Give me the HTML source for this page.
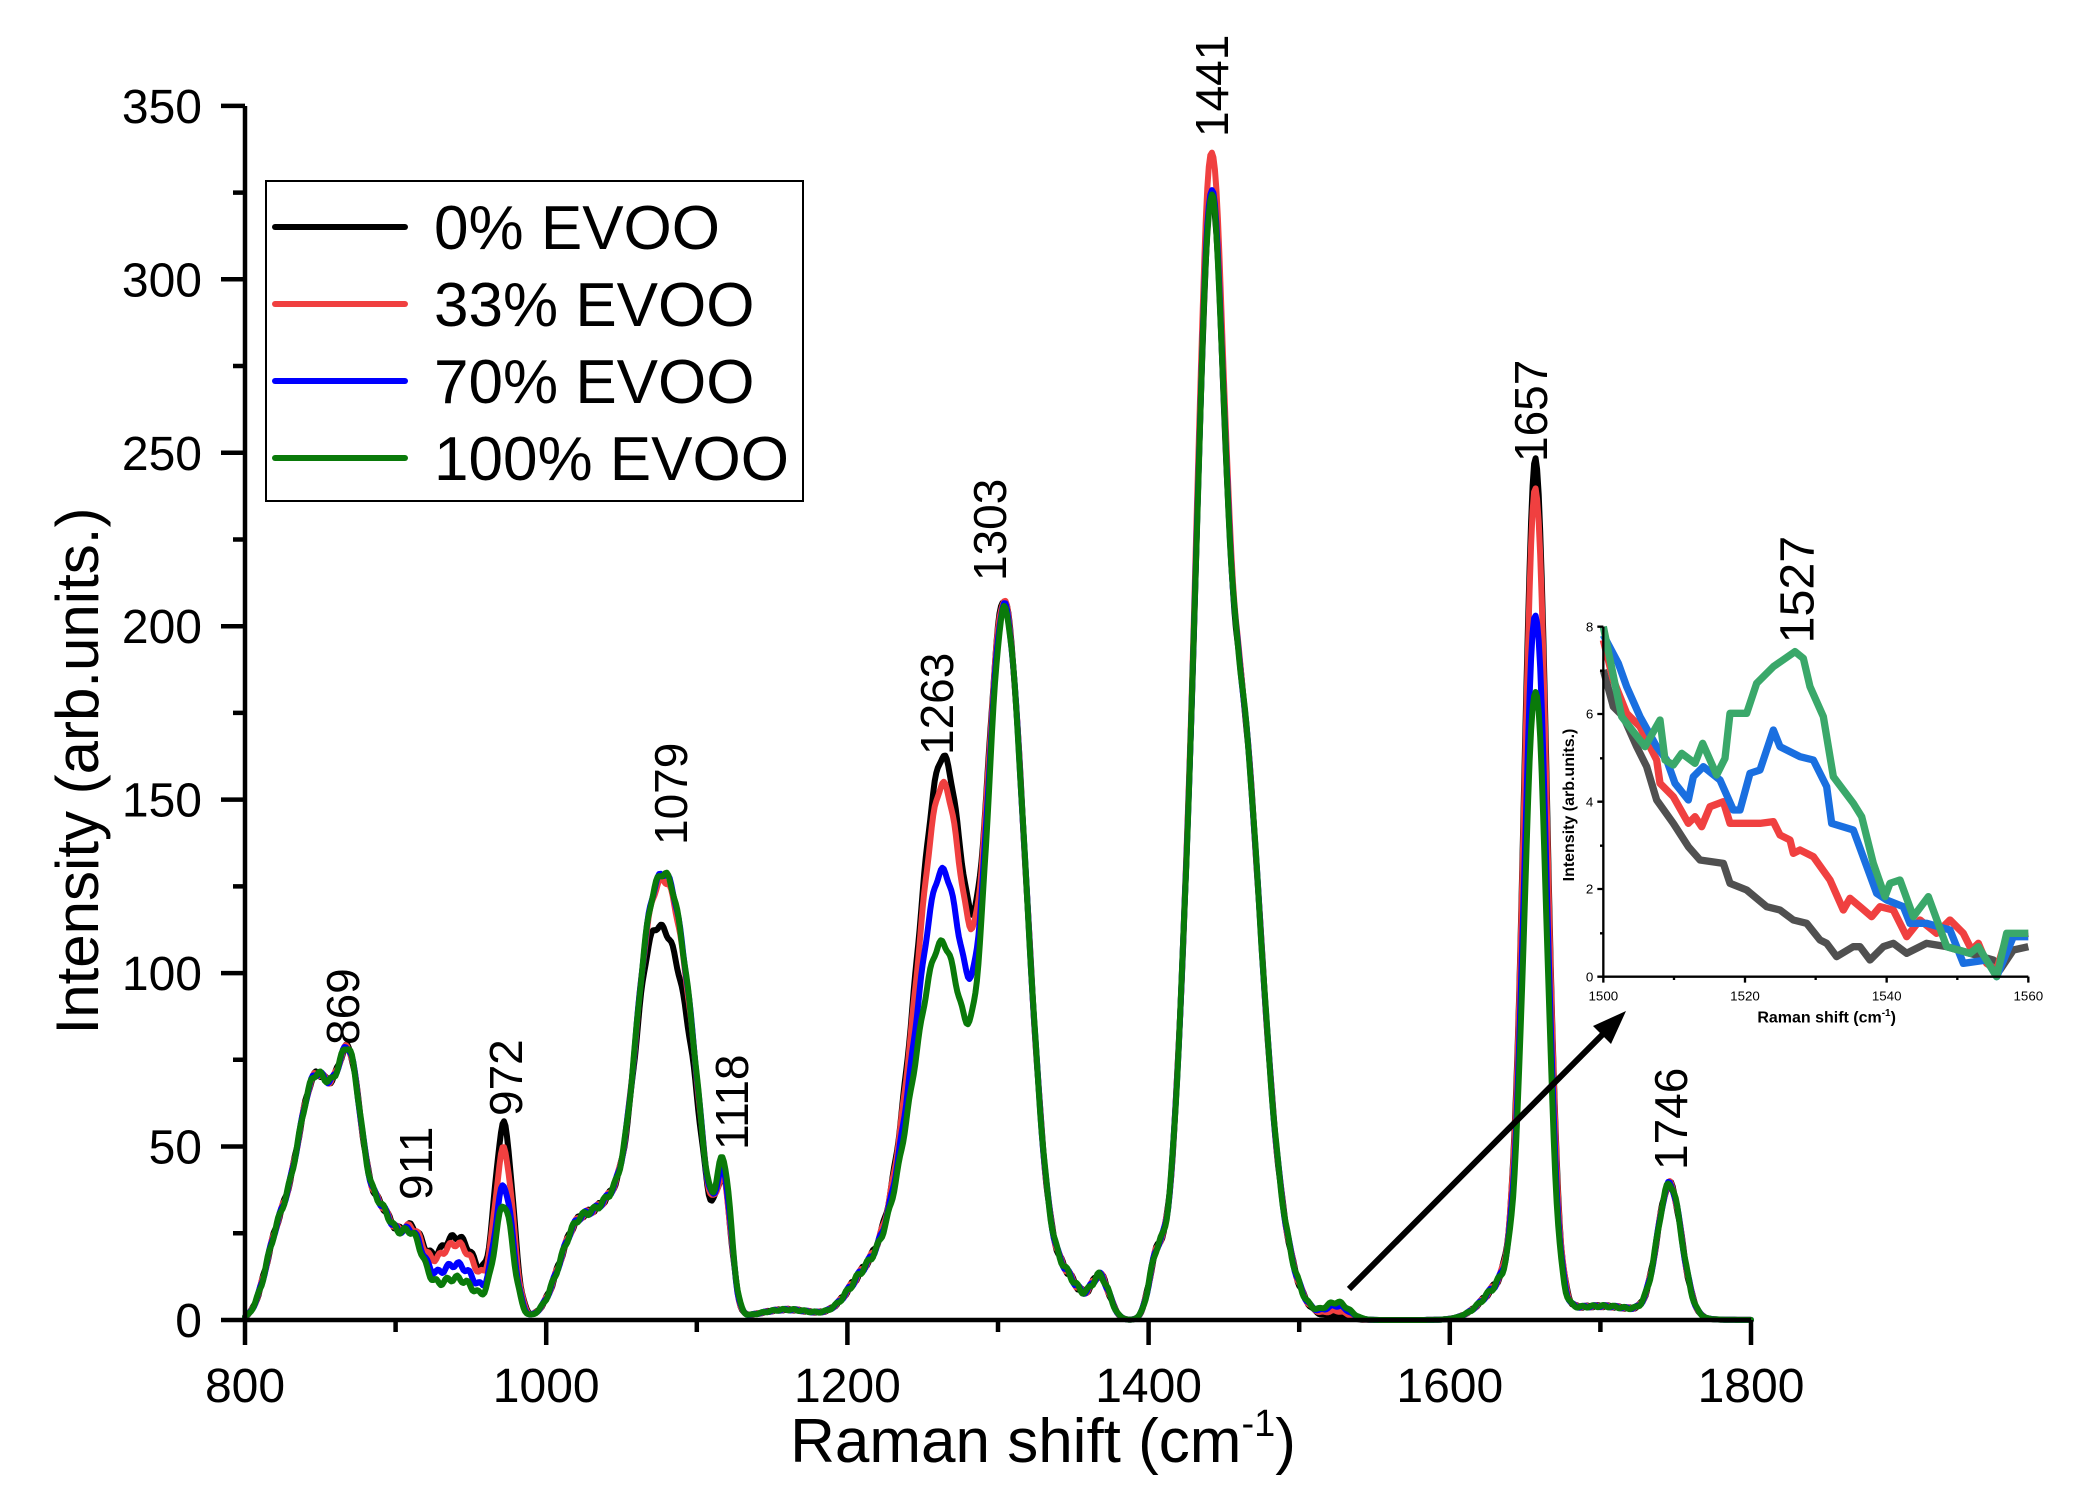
<!DOCTYPE html>
<html><head><meta charset="utf-8"><style>
html,body{margin:0;padding:0;background:#fff;}
svg{display:block;font-family:"Liberation Sans",Arial,sans-serif;}
</style></head><body>
<svg id="s" width="2084" height="1508" viewBox="0 0 2084 1508" xmlns="http://www.w3.org/2000/svg">
<rect width="2084" height="1508" fill="#fff"/>
<g id="curves" fill="none" stroke-width="6" stroke-linejoin="round" stroke-linecap="round"></g>
<g id="axes" stroke="#000" stroke-width="4.5" fill="none"></g>
<g id="labels" font-size="48" fill="#000"></g>
<text x="1043" y="1462" font-size="62" text-anchor="middle">Raman shift (cm<tspan font-size="38" dy="-26">-1</tspan><tspan dy="26">)</tspan></text>
<text transform="translate(98,771) rotate(-90)" font-size="60" text-anchor="middle">Intensity (arb.units.)</text>
<g font-size="46">
<text transform="translate(359,1045) rotate(-90)">869</text>
<text transform="translate(432,1200) rotate(-90)">911</text>
<text transform="translate(522,1116) rotate(-90)">972</text>
<text transform="translate(687,845) rotate(-90)">1079</text>
<text transform="translate(748,1150) rotate(-90)">1118</text>
<text transform="translate(953,755) rotate(-90)">1263</text>
<text transform="translate(1006,581) rotate(-90)">1303</text>
<text transform="translate(1228,137) rotate(-90)">1441</text>
<text transform="translate(1547,462) rotate(-90)">1657</text>
<text transform="translate(1687,1170) rotate(-90)">1746</text>
</g>
<rect x="266" y="181" width="537" height="320" fill="#fff" stroke="#000" stroke-width="2"/>
<g stroke-width="6" stroke-linecap="round">
<line x1="275" y1="227" x2="405" y2="227" stroke="#000"/>
<line x1="275" y1="304" x2="405" y2="304" stroke="#f04040"/>
<line x1="275" y1="381" x2="405" y2="381" stroke="#0000ff"/>
<line x1="275" y1="458" x2="405" y2="458" stroke="#0a7a0a"/>
</g>
<g font-size="62">
<text x="434" y="249">0% EVOO</text>
<text x="434" y="326">33% EVOO</text>
<text x="434" y="403">70% EVOO</text>
<text x="434" y="480">100% EVOO</text>
</g>
<line x1="1349" y1="1289" x2="1605" y2="1032" stroke="#000" stroke-width="6"/>
<polygon points="1626,1011 1593,1026 1611,1044" fill="#000"/>
<g transform="translate(1560,520) scale(0.33333)">
<g id="inset" fill="none" stroke-width="22" stroke-linejoin="round"></g>
<g stroke="#000" stroke-width="7" fill="none">
<path d="M130,320 V1370 H1405"/>
<path d="M130,320 h-18 M130,582 h-18 M130,845 h-18 M130,1107 h-18 M130,1370 h-18 M130,452 h-10 M130,715 h-10 M130,977 h-10 M130,1240 h-10"/>
<path d="M130,1370 v18 M555,1370 v18 M980,1370 v18 M1405,1370 v18 M342,1370 v10 M767,1370 v10 M1192,1370 v10"/>
</g>
<g font-size="40" fill="#000" text-anchor="end">
<text x="100" y="334">8</text><text x="100" y="596">6</text><text x="100" y="859">4</text><text x="100" y="1121">2</text><text x="100" y="1384">0</text>
</g>
<g font-size="40" fill="#000" text-anchor="middle">
<text x="130" y="1442">1500</text><text x="555" y="1442">1520</text><text x="980" y="1442">1540</text><text x="1405" y="1442">1560</text>
</g>
<text x="800" y="1508" font-size="48" text-anchor="middle" font-weight="bold">Raman shift (cm<tspan font-size="30" dy="-20">-1</tspan><tspan dy="20">)</tspan></text>
<text transform="translate(42,855) rotate(-90)" font-size="48" text-anchor="middle" font-weight="bold">Intensity (arb.units.)</text>
<text transform="translate(760,370) rotate(-90)" font-size="145">1527</text>
</g>
</svg>
<script>
(function(){
var NS="http://www.w3.org/2000/svg";
function X(v){return 245+(v-800)*1.506;}
function Y(i){return 1320-i*3.469;}
var common=[[820,15,8],[847,70,14],[870,55,8],[890,30,10],[911,20,8],[1020,25,12],[1045,30,12],[1065,58,9],[1100,34,9],[1160,3,20],[1210,10,12],[1240,30,15],[1303,184,11],[1320,60,10],[1345,12,10],[1368,12,6],[1405,15,5],[1430,120,10],[1460,165,13],[1480,25,14],[1640,12,15],[1700,4,30],[1746,38,8]];
var series=[
 {c:"#000000",v:{940:24,972:54,1082:95,1118:35,1265:154,1442:202,1525:1,1657:240}},
 {c:"#f04040",v:{940:22,972:47,1082:110,1118:35,1265:146,1442:215,1525:2.5,1657:232}},
 {c:"#0000ff",v:{940:16,972:37,1082:112,1118:37,1265:121,1442:204,1525:4,1657:196}},
 {c:"#0a7a0a",v:{940:12,972:32,1082:112,1118:40,1265:100,1442:202,1525:5,1657:174}}
];
var sig={940:15,972:6,1082:12,1118:5,1265:16,1442:8,1525:8,1657:7.5};
var g=document.getElementById("curves");
series.forEach(function(s,si){
  var d="";
  for(var x=800;x<=1800;x+=1){
    var y=0;
    common.forEach(function(p){y+=p[1]*Math.exp(-0.5*Math.pow((x-p[0])/p[2],2));});
    for(var k in s.v){y+=s.v[k]*Math.exp(-0.5*Math.pow((x-k)/sig[k],2));}
    y+=0.8*Math.sin(x*0.9+si)*Math.min(1,y/10);
    if(y<0)y=0;
    d+=(x==800?"M":"L")+X(x).toFixed(1)+","+Y(y).toFixed(1);
  }
  var p=document.createElementNS(NS,"path");p.setAttribute("d",d);p.setAttribute("stroke",s.c);g.appendChild(p);
});
var a=document.getElementById("axes"),d="M245,106 V1320 H1751";
for(var i=0;i<=350;i+=25){var yy=Y(i);d+=" M245,"+yy.toFixed(1)+" h"+(i%50==0?-24:-12);}
for(var v=800;v<=1800;v+=100){var xx=X(v);d+=" M"+xx.toFixed(1)+",1320 v"+(v%200==0?25:12);}
var ap=document.createElementNS(NS,"path");ap.setAttribute("d",d);a.appendChild(ap);
var L=document.getElementById("labels");
for(var i=0;i<=350;i+=50){var t=document.createElementNS(NS,"text");t.setAttribute("x",202);t.setAttribute("y",(Y(i)+17).toFixed(1));t.setAttribute("text-anchor","end");t.textContent=i;L.appendChild(t);}
for(var v=800;v<=1800;v+=200){var t=document.createElementNS(NS,"text");t.setAttribute("x",X(v).toFixed(1));t.setAttribute("y",1402);t.setAttribute("text-anchor","middle");t.textContent=v;L.appendChild(t);}
var ins=[
["#505050","130,450 160,560 190,590 230,680 260,740 290,840 340,910 385,980 420,1020 490,1030 510,1090 560,1110 620,1160 660,1170 700,1200 740,1210 780,1260 800,1270 830,1310 880,1280 900,1280 930,1320 970,1280 1000,1270 1040,1300 1100,1270 1160,1280 1230,1300 1300,1320 1320,1350 1360,1290 1405,1280"],
["#f04040","130,360 160,480 200,580 240,620 290,720 300,790 340,830 385,910 405,890 425,920 450,860 490,845 510,910 550,910 600,910 640,905 660,945 690,960 700,1000 720,990 760,1010 810,1080 850,1170 870,1135 900,1160 935,1190 960,1160 1000,1170 1040,1250 1080,1200 1130,1240 1170,1200 1210,1240 1235,1290 1255,1270 1280,1330 1310,1350 1340,1250 1405,1240"],
["#1a6fe0","130,345 175,430 200,500 240,590 290,680 320,720 345,790 385,840 400,770 430,740 480,780 520,870 540,870 570,760 600,750 640,630 660,680 720,710 760,720 800,800 815,910 880,930 950,1120 980,1140 1030,1160 1050,1210 1100,1210 1170,1230 1210,1330 1280,1320 1310,1370 1360,1250 1405,1250"],
["#3aa86a","130,320 185,590 255,680 300,600 315,720 340,735 365,700 405,730 428,670 470,765 495,715 510,580 560,580 590,490 640,440 705,395 730,415 750,500 790,590 820,770 880,850 905,890 940,1030 975,1130 990,1090 1020,1080 1060,1190 1105,1130 1160,1280 1230,1300 1255,1280 1310,1370 1340,1240 1405,1240"]];
var ig=document.getElementById("inset");
ins.forEach(function(s){var p=document.createElementNS(NS,"polyline");p.setAttribute("points",s[1]);p.setAttribute("stroke",s[0]);ig.appendChild(p);});
})();
</script>
</body></html>
